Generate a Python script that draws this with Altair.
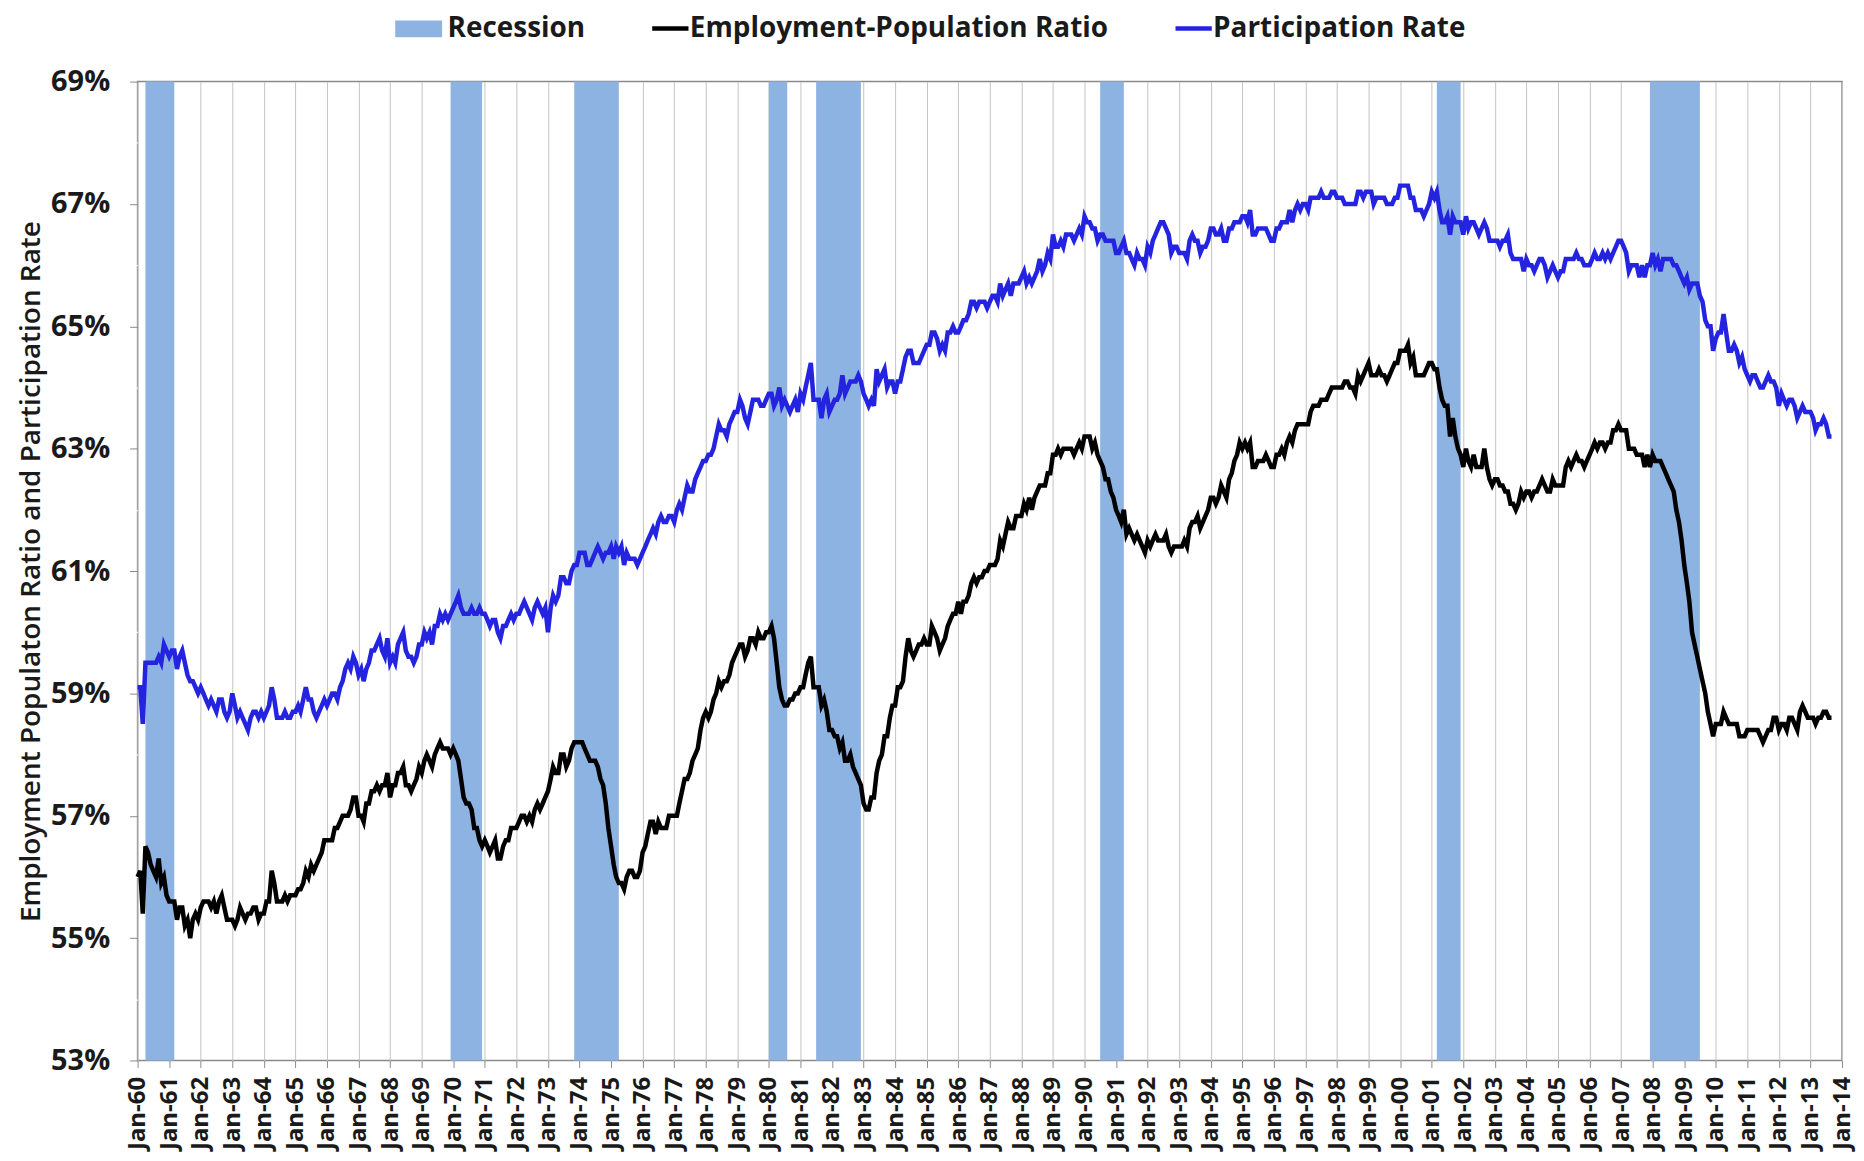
import altair as alt
import pandas as pd

# ---------------- data (monthly, Jan-1960 .. Sep-2013) ----------------
first_year = 1960

participation = [
    59.1, 59.1, 58.5, 59.5, 59.5, 59.5, 59.5, 59.5, 59.6, 59.5, 59.8, 59.7,  # 1960
    59.6, 59.7, 59.7, 59.4, 59.6, 59.7, 59.5, 59.3, 59.2, 59.2, 59.1, 59.0,  # 1961
    59.1, 59.0, 58.9, 58.8, 58.9, 58.8, 58.7, 58.9, 58.9, 58.7, 58.6, 58.7,  # 1962
    59.0, 58.8, 58.6, 58.7, 58.6, 58.5, 58.4, 58.6, 58.7, 58.7, 58.6, 58.7,  # 1963
    58.6, 58.7, 58.8, 59.1, 58.9, 58.6, 58.6, 58.6, 58.7, 58.6, 58.6, 58.7,  # 1964
    58.7, 58.8, 58.7, 58.9, 59.1, 58.9, 58.9, 58.7, 58.6, 58.7, 58.8, 58.9,  # 1965
    58.8, 58.9, 59.0, 59.0, 58.9, 59.1, 59.2, 59.4, 59.5, 59.4, 59.6, 59.5,  # 1966
    59.3, 59.4, 59.2, 59.4, 59.5, 59.7, 59.7, 59.8, 59.9, 59.7, 59.6, 59.9,  # 1967
    59.5, 59.6, 59.5, 59.8, 59.9, 60.0, 59.7, 59.6, 59.6, 59.5, 59.6, 59.8,  # 1968
    59.8, 60.0, 59.9, 60.0, 59.8, 60.1, 60.1, 60.3, 60.2, 60.3, 60.2, 60.3,  # 1969
    60.4, 60.5, 60.6, 60.4, 60.3, 60.3, 60.3, 60.4, 60.3, 60.3, 60.4, 60.3,  # 1970
    60.3, 60.2, 60.1, 60.2, 60.2, 60.0, 59.9, 60.1, 60.1, 60.2, 60.3, 60.2,  # 1971
    60.3, 60.3, 60.4, 60.5, 60.4, 60.3, 60.2, 60.4, 60.5, 60.4, 60.3, 60.4,  # 1972
    60.0, 60.4, 60.6, 60.5, 60.6, 60.9, 60.9, 60.8, 60.8, 61.0, 61.1, 61.1,  # 1973
    61.3, 61.3, 61.3, 61.1, 61.1, 61.2, 61.3, 61.4, 61.3, 61.2, 61.3, 61.3,  # 1974
    61.4, 61.2, 61.4, 61.3, 61.4, 61.1, 61.3, 61.2, 61.2, 61.2, 61.1, 61.2,  # 1975
    61.3, 61.4, 61.5, 61.6, 61.7, 61.6, 61.8, 61.9, 61.8, 61.8, 61.9, 61.9,  # 1976
    61.8, 62.0, 62.1, 62.0, 62.2, 62.4, 62.3, 62.3, 62.5, 62.6, 62.7, 62.8,  # 1977
    62.8, 62.9, 62.9, 63.0, 63.2, 63.4, 63.3, 63.3, 63.2, 63.4, 63.5, 63.6,  # 1978
    63.6, 63.8, 63.7, 63.5, 63.4, 63.6, 63.8, 63.8, 63.8, 63.7, 63.7, 63.8,  # 1979
    63.9, 63.9, 63.7, 63.8, 64.0, 63.7, 63.8, 63.7, 63.6, 63.7, 63.8, 63.6,  # 1980
    63.9, 63.8, 64.0, 64.2, 64.4, 63.8, 63.8, 63.8, 63.5, 63.8, 63.9, 63.6,  # 1981
    63.7, 63.8, 63.8, 63.9, 64.2, 63.9, 64.0, 64.1, 64.1, 64.1, 64.2, 64.1,  # 1982
    63.9, 63.8, 63.7, 63.8, 63.7, 64.3, 64.1, 64.2, 64.3, 64.0, 64.1, 64.1,  # 1983
    63.9, 64.1, 64.1, 64.3, 64.5, 64.6, 64.6, 64.4, 64.4, 64.4, 64.5, 64.6,  # 1984
    64.7, 64.7, 64.9, 64.9, 64.8, 64.6, 64.7, 64.6, 64.9, 64.9, 65.0, 64.9,  # 1985
    64.9, 65.0, 65.1, 65.1, 65.2, 65.4, 65.4, 65.3, 65.4, 65.4, 65.4, 65.3,  # 1986
    65.4, 65.5, 65.5, 65.4, 65.7, 65.5, 65.6, 65.7, 65.5, 65.7, 65.7, 65.7,  # 1987
    65.8, 65.9, 65.7, 65.8, 65.7, 65.8, 65.9, 66.1, 65.9, 66.0, 66.2, 66.1,  # 1988
    66.5, 66.3, 66.3, 66.4, 66.3, 66.5, 66.5, 66.5, 66.4, 66.5, 66.6, 66.5,  # 1989
    66.8, 66.7, 66.7, 66.6, 66.6, 66.4, 66.5, 66.5, 66.4, 66.4, 66.4, 66.4,  # 1990
    66.2, 66.2, 66.3, 66.4, 66.2, 66.2, 66.1, 66.0, 66.2, 66.1, 66.1, 66.0,  # 1991
    66.3, 66.2, 66.4, 66.5, 66.6, 66.7, 66.7, 66.6, 66.5, 66.2, 66.3, 66.3,  # 1992
    66.2, 66.2, 66.2, 66.1, 66.4, 66.5, 66.4, 66.4, 66.2, 66.3, 66.3, 66.4,  # 1993
    66.6, 66.6, 66.5, 66.5, 66.6, 66.4, 66.4, 66.6, 66.6, 66.7, 66.7, 66.7,  # 1994
    66.8, 66.8, 66.7, 66.9, 66.5, 66.5, 66.6, 66.6, 66.6, 66.6, 66.5, 66.4,  # 1995
    66.4, 66.6, 66.6, 66.7, 66.7, 66.7, 66.9, 66.7, 66.9, 67.0, 66.9, 67.0,  # 1996
    67.0, 66.9, 67.1, 67.1, 67.1, 67.1, 67.2, 67.1, 67.1, 67.1, 67.2, 67.2,  # 1997
    67.1, 67.1, 67.1, 67.0, 67.0, 67.0, 67.0, 67.0, 67.2, 67.2, 67.1, 67.2,  # 1998
    67.2, 67.2, 67.0, 67.1, 67.1, 67.1, 67.1, 67.0, 67.0, 67.0, 67.1, 67.1,  # 1999
    67.3, 67.3, 67.3, 67.3, 67.1, 67.1, 66.9, 66.9, 66.9, 66.8, 66.9, 67.0,  # 2000
    67.2, 67.1, 67.2, 66.9, 66.7, 66.7, 66.8, 66.5, 66.8, 66.7, 66.7, 66.7,  # 2001
    66.5, 66.8, 66.6, 66.7, 66.7, 66.6, 66.5, 66.6, 66.7, 66.6, 66.4, 66.4,  # 2002
    66.4, 66.4, 66.3, 66.4, 66.4, 66.5, 66.2, 66.1, 66.1, 66.1, 66.1, 65.9,  # 2003
    66.1, 66.0, 66.0, 65.9, 66.0, 66.1, 66.1, 66.0, 65.8, 65.9, 66.0, 65.9,  # 2004
    65.8, 65.9, 65.9, 66.1, 66.1, 66.1, 66.1, 66.2, 66.1, 66.1, 66.0, 66.0,  # 2005
    66.0, 66.1, 66.2, 66.1, 66.1, 66.2, 66.1, 66.2, 66.1, 66.2, 66.3, 66.4,  # 2006
    66.4, 66.3, 66.2, 65.9, 66.0, 66.0, 66.0, 65.8, 66.0, 65.8, 66.0, 66.0,  # 2007
    66.2, 66.0, 66.1, 65.9, 66.1, 66.1, 66.1, 66.1, 66.0, 66.0, 65.9, 65.8,  # 2008
    65.7, 65.8, 65.6, 65.7, 65.7, 65.7, 65.5, 65.4, 65.1, 65.0, 65.0, 64.6,  # 2009
    64.8, 64.9, 64.9, 65.2, 64.9, 64.6, 64.6, 64.7, 64.6, 64.4, 64.5, 64.3,  # 2010
    64.2, 64.1, 64.2, 64.2, 64.1, 64.0, 64.0, 64.1, 64.2, 64.1, 64.1, 64.0,  # 2011
    63.7, 63.9, 63.8, 63.7, 63.8, 63.8, 63.7, 63.5, 63.6, 63.7, 63.6, 63.6,  # 2012
    63.6, 63.5, 63.3, 63.4, 63.4, 63.5, 63.4, 63.2, 63.2,                    # 2013
]

employment = [
    56.0, 56.1, 55.4, 56.5, 56.4, 56.2, 56.1, 56.0, 56.3, 55.9, 56.0, 55.7,  # 1960
    55.6, 55.6, 55.6, 55.3, 55.5, 55.5, 55.2, 55.3, 55.0, 55.3, 55.4, 55.3,  # 1961
    55.5, 55.6, 55.6, 55.6, 55.5, 55.6, 55.4, 55.6, 55.7, 55.5, 55.3, 55.3,  # 1962
    55.3, 55.2, 55.3, 55.5, 55.4, 55.3, 55.4, 55.4, 55.5, 55.5, 55.3, 55.4,  # 1963
    55.4, 55.6, 55.6, 56.1, 55.9, 55.6, 55.6, 55.6, 55.7, 55.6, 55.7, 55.7,  # 1964
    55.7, 55.8, 55.8, 55.9, 56.1, 56.0, 56.2, 56.1, 56.2, 56.3, 56.4, 56.6,  # 1965
    56.6, 56.6, 56.6, 56.8, 56.8, 56.9, 57.0, 57.0, 57.0, 57.1, 57.3, 57.3,  # 1966
    57.0, 57.0, 56.9, 57.2, 57.2, 57.4, 57.4, 57.5, 57.4, 57.5, 57.5, 57.7,  # 1967
    57.3, 57.5, 57.5, 57.7, 57.7, 57.8, 57.5, 57.5, 57.4, 57.5, 57.6, 57.8,  # 1968
    57.7, 57.9, 58.0, 57.9, 57.8, 58.0, 58.1, 58.2, 58.1, 58.1, 58.1, 58.0,  # 1969
    58.1, 58.0, 57.9, 57.6, 57.3, 57.2, 57.2, 57.1, 56.8, 56.8, 56.6, 56.5,  # 1970
    56.6, 56.5, 56.4, 56.5, 56.6, 56.3, 56.3, 56.5, 56.6, 56.6, 56.8, 56.8,  # 1971
    56.8, 56.9, 57.0, 57.0, 56.9, 57.0, 56.9, 57.1, 57.2, 57.1, 57.2, 57.3,  # 1972
    57.4, 57.6, 57.8, 57.7, 57.7, 58.0, 58.0, 57.8, 57.9, 58.1, 58.2, 58.2,  # 1973
    58.2, 58.2, 58.1, 58.0, 57.9, 57.9, 57.9, 57.8, 57.6, 57.5, 57.2, 56.8,  # 1974
    56.5, 56.2, 56.0, 55.9, 55.9, 55.8, 56.0, 56.1, 56.1, 56.0, 56.0, 56.1,  # 1975
    56.4, 56.5, 56.7, 56.9, 56.9, 56.7, 56.9, 56.8, 56.8, 56.8, 57.0, 57.0,  # 1976
    57.0, 57.0, 57.2, 57.4, 57.6, 57.6, 57.7, 57.9, 58.0, 58.1, 58.4, 58.6,  # 1977
    58.7, 58.6, 58.7, 58.9, 59.0, 59.2, 59.1, 59.2, 59.2, 59.3, 59.5, 59.6,  # 1978
    59.7, 59.8, 59.8, 59.6, 59.7, 59.9, 59.9, 59.8, 60.0, 59.9, 59.9, 60.0,  # 1979
    60.0, 60.1, 59.9, 59.5, 59.1, 58.9, 58.8, 58.8, 58.9, 58.9, 59.0, 59.0,  # 1980
    59.1, 59.1, 59.3, 59.5, 59.6, 59.1, 59.1, 59.1, 58.8, 58.9, 58.7, 58.4,  # 1981
    58.4, 58.3, 58.3, 58.1, 58.2, 57.9, 57.9, 58.0, 57.8, 57.7, 57.6, 57.5,  # 1982
    57.2, 57.1, 57.1, 57.3, 57.3, 57.7, 57.9, 58.0, 58.3, 58.3, 58.6, 58.8,  # 1983
    58.8, 59.1, 59.1, 59.2, 59.6, 59.9, 59.7, 59.6, 59.7, 59.8, 59.8, 59.9,  # 1984
    59.8, 59.8, 60.1, 60.0, 59.9, 59.7, 59.8, 59.9, 60.1, 60.2, 60.3, 60.3,  # 1985
    60.5, 60.3, 60.5, 60.5, 60.6, 60.8, 60.9, 60.8, 60.9, 60.9, 61.0, 61.0,  # 1986
    61.1, 61.1, 61.1, 61.2, 61.5, 61.4, 61.6, 61.8, 61.7, 61.7, 61.9, 61.9,  # 1987
    61.9, 62.1, 62.0, 62.2, 62.0, 62.2, 62.3, 62.4, 62.4, 62.4, 62.6, 62.6,  # 1988
    62.9, 62.9, 63.0, 62.9, 63.0, 63.0, 63.0, 63.0, 62.9, 63.0, 63.1, 63.0,  # 1989
    63.2, 63.2, 63.2, 63.0, 63.1, 62.9, 62.8, 62.7, 62.5, 62.5, 62.3, 62.2,  # 1990
    62.0, 61.9, 61.8, 62.0, 61.6, 61.7, 61.6, 61.5, 61.6, 61.5, 61.4, 61.3,  # 1991
    61.5, 61.4, 61.5, 61.6, 61.5, 61.5, 61.5, 61.6, 61.4, 61.3, 61.4, 61.4,  # 1992
    61.4, 61.4, 61.5, 61.4, 61.7, 61.8, 61.8, 61.9, 61.7, 61.8, 61.9, 62.0,  # 1993
    62.2, 62.2, 62.1, 62.2, 62.4, 62.3, 62.2, 62.5, 62.6, 62.8, 62.9, 63.1,  # 1994
    63.0, 63.1, 63.0, 63.1, 62.7, 62.7, 62.8, 62.8, 62.8, 62.9, 62.8, 62.7,  # 1995
    62.7, 62.9, 62.9, 63.0, 62.9, 63.1, 63.2, 63.1, 63.3, 63.4, 63.4, 63.4,  # 1996
    63.4, 63.4, 63.6, 63.7, 63.7, 63.7, 63.8, 63.8, 63.8, 63.9, 64.0, 64.0,  # 1997
    64.0, 64.0, 64.0, 64.1, 64.1, 64.0, 64.0, 63.9, 64.2, 64.1, 64.2, 64.3,  # 1998
    64.4, 64.2, 64.2, 64.2, 64.3, 64.2, 64.2, 64.1, 64.2, 64.3, 64.4, 64.4,  # 1999
    64.6, 64.6, 64.6, 64.7, 64.4, 64.5, 64.2, 64.2, 64.2, 64.2, 64.3, 64.4,  # 2000
    64.4, 64.3, 64.3, 64.0, 63.8, 63.7, 63.7, 63.2, 63.5, 63.2, 63.0, 62.9,  # 2001
    62.7, 63.0, 62.8, 62.7, 62.9, 62.7, 62.7, 62.7, 63.0, 62.7, 62.5, 62.4,  # 2002
    62.5, 62.5, 62.4, 62.4, 62.3, 62.3, 62.1, 62.1, 62.0, 62.1, 62.3, 62.2,  # 2003
    62.3, 62.3, 62.2, 62.3, 62.3, 62.4, 62.5, 62.4, 62.3, 62.3, 62.5, 62.4,  # 2004
    62.4, 62.4, 62.4, 62.7, 62.8, 62.7, 62.8, 62.9, 62.8, 62.8, 62.7, 62.8,  # 2005
    62.9, 63.0, 63.1, 63.0, 63.1, 63.1, 63.0, 63.1, 63.1, 63.3, 63.3, 63.4,  # 2006
    63.3, 63.3, 63.3, 63.0, 63.0, 63.0, 62.9, 62.9, 62.9, 62.7, 62.9, 62.7,  # 2007
    62.9, 62.8, 62.8, 62.8, 62.7, 62.6, 62.5, 62.4, 62.3, 62.0, 61.8, 61.5,  # 2008
    61.1, 60.8, 60.5, 60.0, 59.8, 59.6, 59.4, 59.2, 59.0, 58.7, 58.5, 58.3,  # 2009
    58.5, 58.5, 58.5, 58.7, 58.6, 58.5, 58.5, 58.5, 58.5, 58.3, 58.3, 58.3,  # 2010
    58.4, 58.4, 58.4, 58.4, 58.4, 58.3, 58.2, 58.3, 58.4, 58.4, 58.6, 58.6,  # 2011
    58.4, 58.5, 58.5, 58.4, 58.6, 58.6, 58.5, 58.4, 58.7, 58.8, 58.7, 58.6,  # 2012
    58.6, 58.6, 58.5, 58.6, 58.6, 58.7, 58.7, 58.6, 58.6,                    # 2013
]

recession_start = ["1960-04-01", "1969-12-01", "1973-11-01", "1980-01-01",
                   "1981-07-01", "1990-07-01", "2001-03-01", "2007-12-01"]
recession_end = ["1961-03-01", "1970-12-01", "1975-04-01", "1980-08-01",
                 "1982-12-01", "1991-04-01", "2001-12-01", "2009-07-01"]

band_name = ["Recession"]
band_color = ["#8DB3E2"]
line_names = ["Employment-Population Ratio", "Participation Rate"]
line_colors = ["#000000", "#2424E0"]

y_title = "Employment Populaton Ratio and Participation Rate"
year_ticks = list(range(1960, 2015))
pct_ticks = list(range(53, 70))

# ---------------- tables ----------------
n = len(participation)
dates = [f"{first_year + i // 12}-{i % 12 + 1:02d}-01" for i in range(n)]
lines_df = pd.concat([
    pd.DataFrame({"date": dates, "value": employment, "series": line_names[0]}),
    pd.DataFrame({"date": dates, "value": participation, "series": line_names[1]}),
])
rec_df = pd.DataFrame({"start": recession_start, "end": recession_end,
                       "band": band_name[0]})

FONT = "Open Sans"
TXT = "#1a1a1a"

x_scale = alt.Scale(type="utc",
                    domain=[alt.DateTime(year=1960, month=1, date=1, utc=True),
                            alt.DateTime(year=2014, month=1, date=1, utc=True)])
x_axis = alt.Axis(
    values=[alt.DateTime(year=y, month=1, date=1, utc=True) for y in year_ticks],
    labelExpr="'Jan-' + utcFormat(datum.value, '%y')",
    labelAngle=-90, labelFont=FONT, labelFontSize=24, labelFontWeight="bold",
    labelColor=TXT, labelOverlap=False, labelPadding=9, labelBound=False,
    tickSize=7, tickColor="#8a8a8a", domain=False,
    gridColor="#c4c4c4", gridWidth=1, title=None,
)
y_scale = alt.Scale(domain=[53, 69], nice=False, zero=False)
y_axis = alt.Axis(
    values=pct_ticks,
    labelExpr="datum.value % 2 == 1 ? datum.value + '%' : ''",
    labelFont=FONT, labelFontSize=29, labelFontWeight="bold", labelColor=TXT,
    labelPadding=20, tickSize=8,
    tickColor={"condition": {"test": "datum.value % 2 == 1", "value": "#8a8a8a"},
               "value": "#ffffff"},
    gridColor={"condition": {"test": "datum.value % 2 == 1", "value": "#8a8a8a"},
               "value": "#c4c4c4"},
    gridWidth={"condition": {"test": "datum.value % 2 == 1", "value": 1.8},
               "value": 1.2},
    domain=False,
    title=y_title, titleFont=FONT, titleFontSize=28, titleFontWeight=600,
    titleColor=TXT, titlePadding=5,
)

legend_common = dict(
    title=None, orient="none", direction="horizontal",
    labelFont=FONT, labelFontSize=28, labelFontWeight="bold", labelColor=TXT,
    labelLimit=700, symbolSize=784, symbolOpacity=1,
)
band_legend = alt.Legend(legendX=268, legendY=-67,
                         symbolType="M-1.68,-0.6H1.68V0.6H-1.68Z",
                         symbolStrokeWidth=0, labelOffset=15, **legend_common)
line_legend = alt.Legend(legendX=518, legendY=-70,
                         symbolType="M-1.3,0H1.3", symbolStrokeWidth=4.5,
                         labelOffset=3, columnPadding=58, **legend_common)

bands = alt.Chart(rec_df).mark_rect(opacity=1).encode(
    x=alt.X("start:T", scale=x_scale, axis=x_axis),
    x2="end:T",
    y=alt.Y(datum=69, scale=y_scale, axis=y_axis),
    y2=alt.Y2(datum=53),
    fill=alt.Fill("band:N", scale=alt.Scale(domain=band_name, range=band_color),
                  legend=band_legend),
)

lines = alt.Chart(lines_df).mark_line(strokeWidth=4.5).encode(
    x=alt.X("date:T", scale=x_scale, axis=x_axis),
    y=alt.Y("value:Q", scale=y_scale, axis=y_axis),
    stroke=alt.Stroke("series:N", scale=alt.Scale(domain=line_names, range=line_colors),
                      legend=line_legend),
)

chart = alt.layer(bands, lines).properties(
    width=1710, height=982,
    autosize=alt.AutoSizeParams(type="none"),
    padding={"left": 130, "top": 72, "right": 14, "bottom": 91},
    background="white",
).configure_view(stroke="#8a8a8a", strokeWidth=1.5)

chart.save("out.html", embed_options={"renderer": "svg", "actions": False})
